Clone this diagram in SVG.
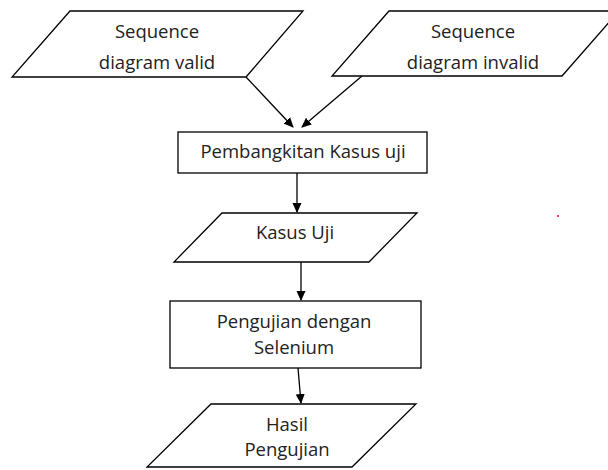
<svg xmlns="http://www.w3.org/2000/svg" width="608" height="470" viewBox="0 0 608 470">
<defs>
<marker id="ah" markerWidth="10" markerHeight="10" refX="9" refY="5" orient="auto" markerUnits="userSpaceOnUse">
<path d="M0,0.5 L10,5 L0,9.5 Z" fill="#000"/>
</marker>
<style>
.s{fill:#fff;stroke:#000;stroke-width:1.3}
.t{font-family:"Open Sans","Liberation Sans",sans-serif;font-size:18.5px;fill:#222;text-anchor:middle}
.c{stroke:#000;stroke-width:1.3;fill:none;marker-end:url(#ah)}
</style>
</defs>
<rect width="608" height="470" fill="#fff"/>
<g id="connectors">
<line class="c" x1="246" y1="77" x2="293" y2="127"/>
<line class="c" x1="362" y1="76" x2="302" y2="127"/>
<line class="c" x1="297" y1="173" x2="297" y2="212"/>
<line class="c" x1="301" y1="262" x2="301" y2="300"/>
<line class="c" x1="298" y1="368" x2="301" y2="403"/>
</g>
<g id="n1">
<polygon class="s" points="70,11 303,11 246,77 12,77"/>
<text class="t" x="157" y="38">Sequence</text>
<text class="t" x="157" y="69">diagram valid</text>
</g>
<g id="n2">
<polygon class="s" points="389,11 619,11 562,76 332,76"/>
<text class="t" x="473" y="38">Sequence</text>
<text class="t" x="473" y="69">diagram invalid</text>
</g>
<g id="n3">
<rect class="s" x="178" y="132" width="249" height="41"/>
<text class="t" x="303" y="158">Pembangkitan Kasus uji</text>
</g>
<g id="n4">
<polygon class="s" points="222,213 417,213 369,262 174,262"/>
<text class="t" x="295" y="239">Kasus Uji</text>
</g>
<g id="n5">
<rect class="s" x="170" y="301" width="251" height="67"/>
<text class="t" x="294" y="328">Pengujian dengan</text>
<text class="t" x="294" y="354">Selenium</text>
</g>
<g id="n6">
<polygon class="s" points="211,404 416,404 352,467 147,467"/>
<text class="t" x="287" y="431">Hasil</text>
<text class="t" x="287" y="456">Pengujian</text>
</g>
<circle cx="558" cy="216" r="1" fill="#e00"/>
</svg>
